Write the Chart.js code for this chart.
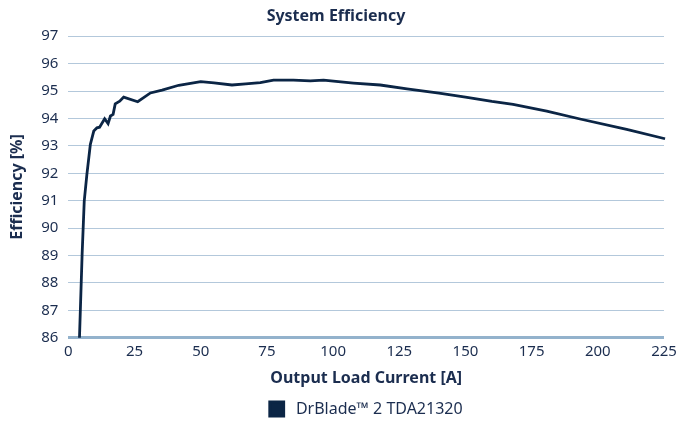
<!DOCTYPE html>
<html>
<head>
<meta charset="utf-8">
<script src="https://cdn.jsdelivr.net/npm/chart.js@4/dist/chart.umd.min.js"></script>
<style>
  html, body { margin: 0; padding: 0; background: #fff; }
  #wrap { width: 692px; height: 421px; }
</style>
</head>
<body>
<div id="wrap"><canvas id="eff" width="692" height="421"></canvas></div>
<script>
// ---- data ----
const loadCurrent = [4.2, 5.2, 6.0, 7.0, 8.3, 9.6, 10.8, 11.8, 13.7, 15.0, 15.9, 16.9, 17.7, 19.4, 20.9,
  26.2, 31, 35.4, 41.7, 50, 55, 61.8, 67, 72.5, 77.5, 85, 91.4, 96.4, 102, 107.7, 117.8, 127.9,
  140, 150, 160, 168, 180.7, 193.3, 210.9, 225.4];
const efficiency = [86.0, 89.05, 90.99, 91.96, 93.05, 93.54, 93.66, 93.68, 93.99, 93.81, 94.09, 94.15, 94.53, 94.63, 94.78,
  94.61, 94.93, 95.03, 95.21, 95.34, 95.30, 95.22, 95.26, 95.31, 95.40, 95.40, 95.37, 95.40, 95.34, 95.29, 95.22, 95.08,
  94.92, 94.78, 94.62, 94.51, 94.27, 93.98, 93.60, 93.26];
const xTicks = [0, 25, 50, 75, 100, 125, 150, 175, 200, 225];
const seriesName = 'DrBlade\u2122 2 TDA21320';

const NAVY = '#0b2545';
const TEXT = '#1b2d4f';
const GRID = '#b3c8db';
const BASE = '#93b2cc';
const FONT = "'Noto Sans', sans-serif";

const points = loadCurrent.map((x, i) => ({ x, y: efficiency[i] }));

new Chart(document.getElementById('eff'), {
  type: 'line',
  data: {
    datasets: [{
      label: seriesName,
      data: points,
      borderColor: NAVY,
      backgroundColor: NAVY,
      borderWidth: 2.8,
      pointRadius: 0,
      tension: 0,
      clip: 4,
    }]
  },
  options: {
    responsive: false,
    animation: false,
    layout: { padding: { left: 8, right: 28, top: 5, bottom: -6 } },
    plugins: {
      title: {
        display: true,
        text: 'System Efficiency',
        color: TEXT,
        font: { family: FONT, size: 16, weight: 'bold' },
        padding: { top: 2, bottom: 10 },
      },
      legend: {
        position: 'bottom',
        fullSize: false,
        labels: {
          color: TEXT,
          font: { family: FONT, size: 16 },
          boxWidth: 14,
          boxHeight: 14,
          padding: 1,
          // a little more room between the swatch and the text
          generateLabels: chart => Chart.defaults.plugins.legend.labels.generateLabels(chart)
            .map(item => ({ ...item, text: ' ' + item.text })),
        }
      },
      tooltip: { enabled: false },
    },
    scales: {
      x: {
        type: 'linear',
        min: 0,
        max: 225,
        afterBuildTicks: axis => { axis.ticks = xTicks.map(v => ({ value: v })); },
        grid: { display: false, drawTicks: false },
        border: { display: false },
        ticks: { color: TEXT, font: { family: FONT, size: 15 }, padding: 5, maxRotation: 0 },
        title: {
          display: true,
          text: 'Output Load Current [A]',
          color: TEXT,
          font: { family: FONT, size: 16, weight: 'bold' },
          padding: { top: 3, bottom: 12 },
        }
      },
      y: {
        min: 86,
        max: 97,
        ticks: { stepSize: 1, color: TEXT, font: { family: FONT, size: 15 }, padding: 10 },
        grid: {
          color: ctx => (ctx.tick && ctx.tick.value === 86 ? BASE : GRID),
          lineWidth: ctx => (ctx.tick && ctx.tick.value === 86 ? 3 : 1),
          drawTicks: false,
        },
        border: { display: false },
        title: {
          display: true,
          text: 'Efficiency [%]',
          color: TEXT,
          font: { family: FONT, size: 16, weight: 'bold' },
          padding: { top: 0, bottom: 4 },
        }
      }
    }
  }
});
</script>
</body>
</html>
